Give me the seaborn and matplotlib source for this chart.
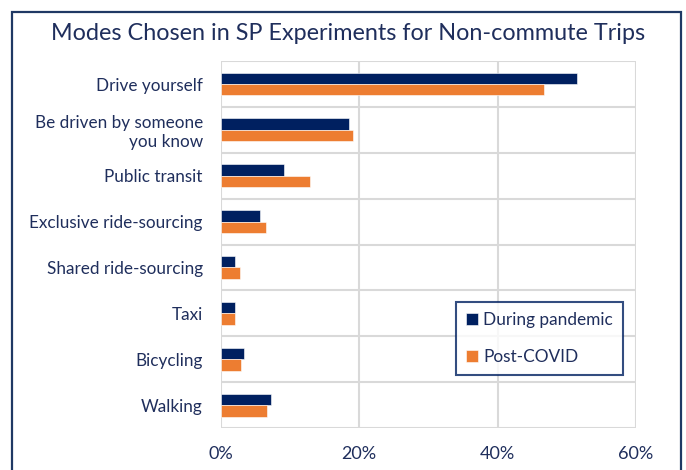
import numpy as np
import pandas as pd
import matplotlib
matplotlib.use('Agg')
import matplotlib.pyplot as plt
import seaborn as sns
from matplotlib.patches import Rectangle
from matplotlib.ticker import PercentFormatter

modes = ['Drive yourself', 'Be driven by someone\nyou know', 'Public transit',
         'Exclusive ride-sourcing', 'Shared ride-sourcing', 'Taxi', 'Bicycling', 'Walking']
during = [51.5, 18.5, 9.1, 5.6, 2.1, 2.1, 3.3, 7.2]
post = [46.7, 19.1, 12.9, 6.5, 2.7, 2.0, 2.9, 6.6]
periods = ['During pandemic', 'Post-COVID']
x_ticks = [0, 20, 40, 60]

navy = '#002060'
orange = '#ED7D31'
text_col = '#1F2E5C'
grid_col = '#D9D9D9'

df = pd.DataFrame({
    'mode': modes * 2,
    'share': during + post,
    'period': [periods[0]] * len(modes) + [periods[1]] * len(modes),
})

sns.set_style('white')
plt.rcParams['font.family'] = ['Lato', 'DejaVu Sans']

fig = plt.figure(figsize=(6.86, 4.70), dpi=100)
ax = fig.add_axes([0.322, 0.0894, 0.605, 0.7806])

sns.barplot(data=df, y='mode', x='share', hue='period', orient='h',
            palette=[navy, orange], width=0.5, ax=ax, saturation=1,
            edgecolor='white', linewidth=0.4)

ax.set_xlim(0, 60)
ax.set_ylim(len(modes) - 0.5, -0.5)
ax.set_xticks(x_ticks)
ax.xaxis.set_major_formatter(PercentFormatter(decimals=0))
ax.set_yticks(np.arange(len(modes) + 1) - 0.5, minor=True)
ax.grid(axis='x', which='major', color=grid_col, linewidth=1.5)
ax.grid(axis='y', which='minor', color=grid_col, linewidth=1.5)
ax.set_axisbelow(True)
for s in ax.spines.values():
    s.set_visible(False)
ax.set_xlabel('')
ax.set_ylabel('')
ax.tick_params(axis='x', length=0, pad=13, labelsize=13, labelcolor=text_col)
ax.tick_params(axis='y', which='both', length=0, pad=13, labelsize=12.3, labelcolor=text_col)
for lab in ax.get_yticklabels():
    lab.set_horizontalalignment('right')
    lab.set_multialignment('right')

leg = ax.legend(loc='center', bbox_to_anchor=(0.566, 0.139, 0.403, 0.21),
                frameon=True, fancybox=False, edgecolor=navy, fontsize=12.4,
                handlelength=0.7, handleheight=0.7, handletextpad=0.3,
                labelspacing=1.2, borderpad=0.6)
leg.get_frame().set_linewidth(1.5)
for t in leg.get_texts():
    t.set_color(text_col)

fig.text(0.508, 1 - 34 / 470, 'Modes Chosen in SP Experiments for Non-commute Trips',
         ha='center', va='center', fontsize=16.8, color=text_col)

fig.patches.append(Rectangle((12 / 686, -0.05), 669 / 686, 0.05 + (470 - 12) / 470,
                             transform=fig.transFigure, fill=False,
                             edgecolor='#1F3864', linewidth=1.6))

fig.savefig('out.png', dpi=100)
